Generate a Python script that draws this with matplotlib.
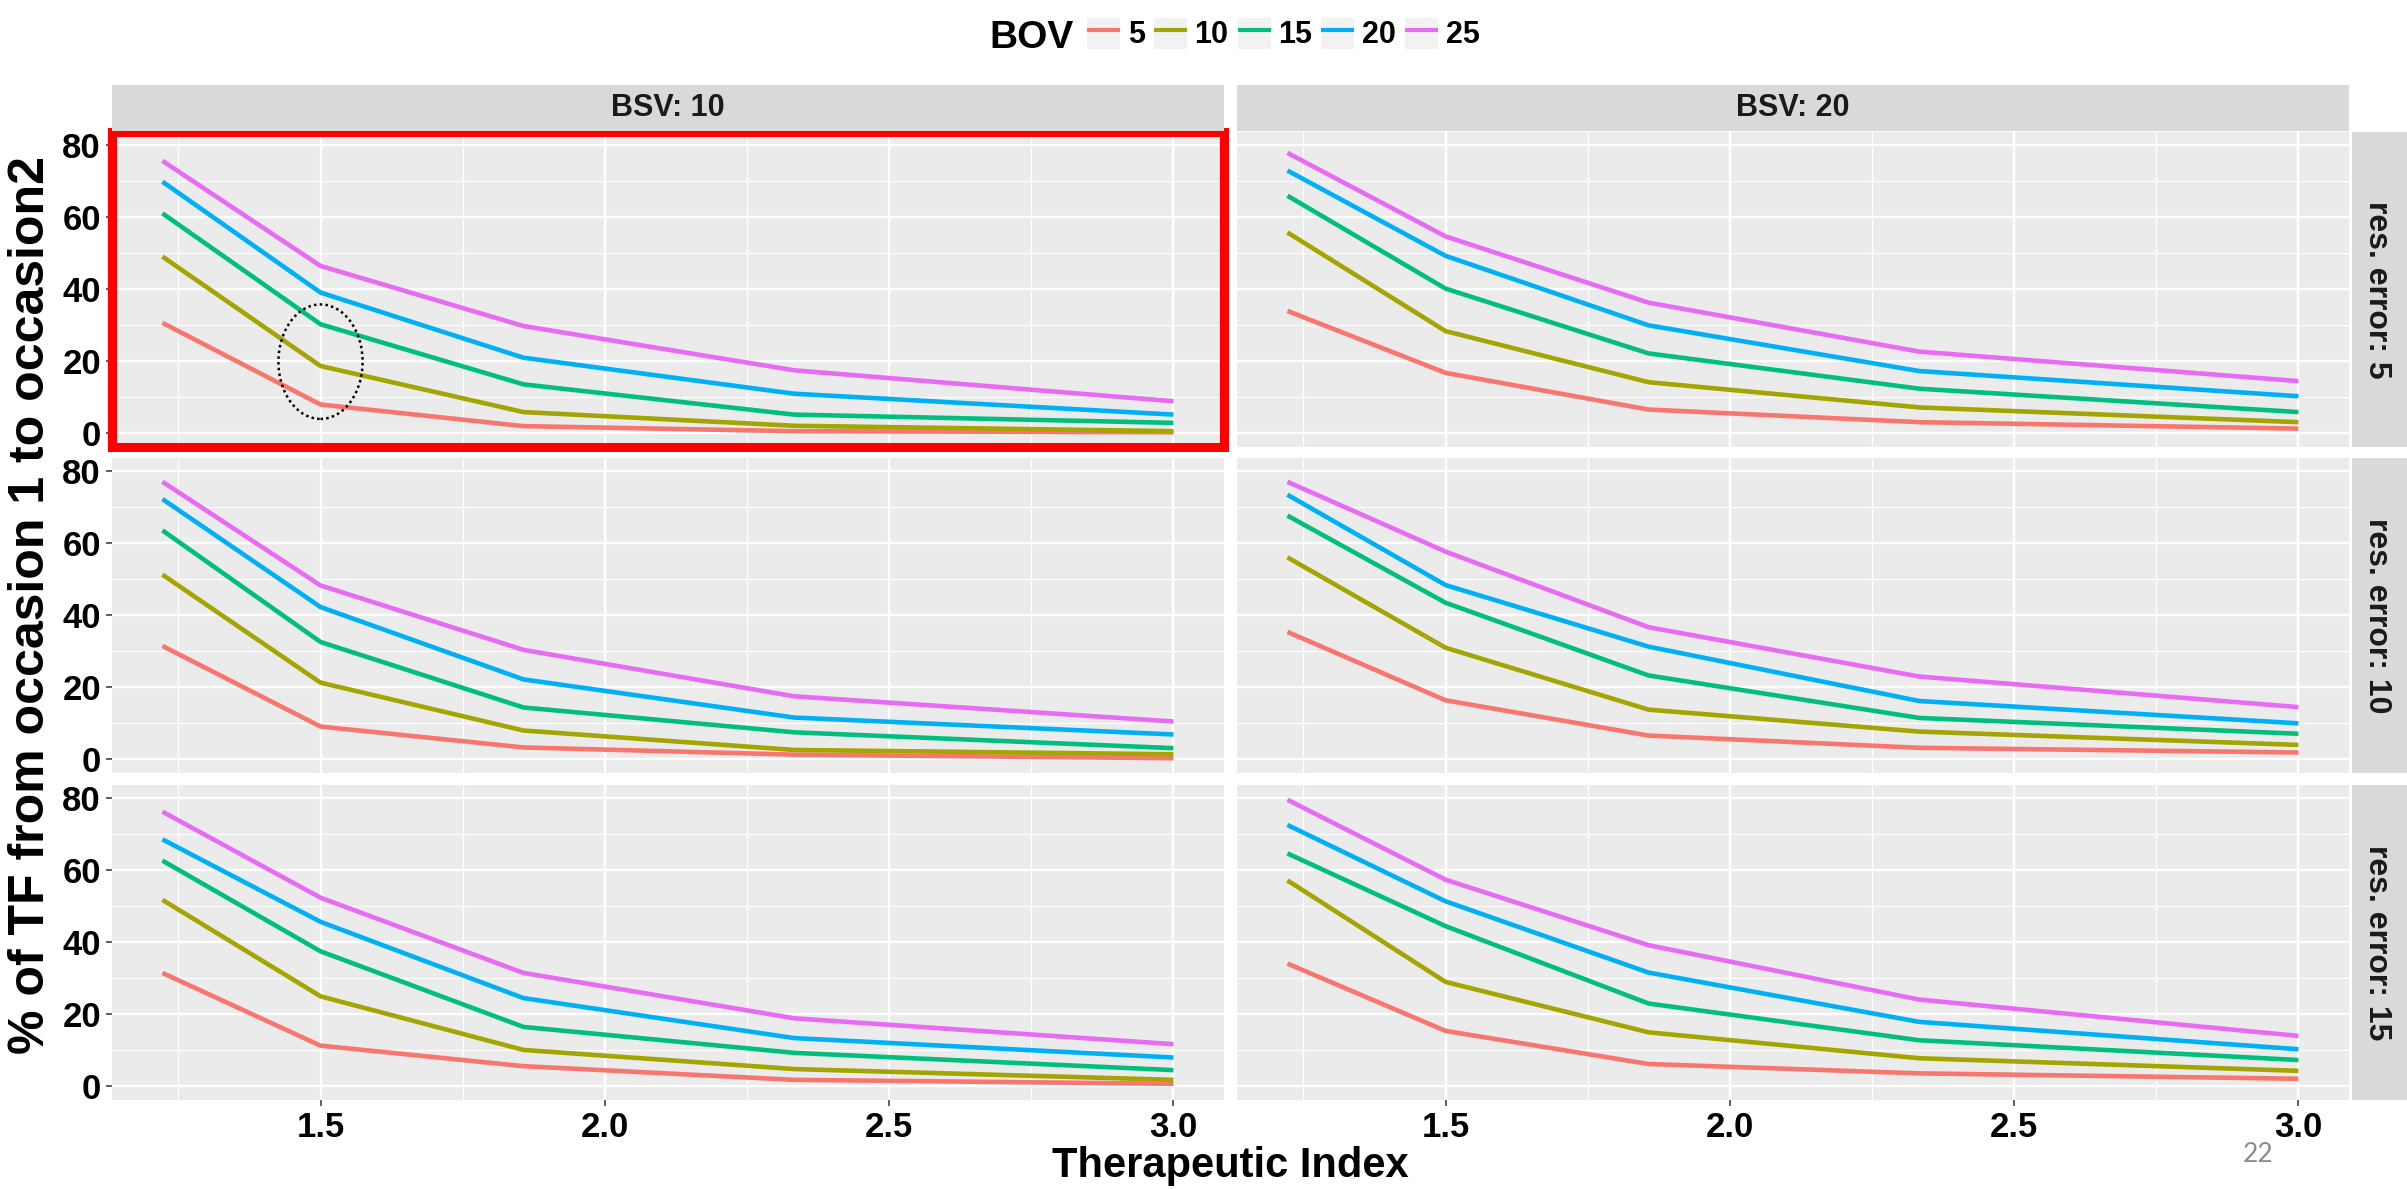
import matplotlib
matplotlib.use("Agg")
import matplotlib.pyplot as plt
from matplotlib.patches import Rectangle, Ellipse, Patch
from matplotlib.lines import Line2D
from matplotlib.legend_handler import HandlerTuple
from matplotlib.ticker import MultipleLocator

plt.rcParams['font.family'] = ['Liberation Sans', 'DejaVu Sans']

# ---------------- data ----------------
therapeutic_index = [1.222, 1.5, 1.857, 2.333, 3.0]
bov_levels = [5, 10, 15, 20, 25]
bsv_levels = [10, 20]
res_levels = [5, 10, 15]
bov_colors = ['#F8766D', '#A3A500', '#00BF7D', '#00B0F6', '#E76BF3']

# each panel: one row per BOV level (5, 10, 15, 20, 25)
bsv10_res5 = [[30.6, 7.9, 1.9, 0.5, 0.2],
              [49.0, 18.6, 5.8, 2.0, 0.5],
              [61.0, 30.2, 13.5, 5.1, 2.8],
              [69.8, 39.0, 20.9, 10.9, 5.1],
              [75.6, 46.4, 29.7, 17.4, 8.8]]
bsv20_res5 = [[33.9, 16.7, 6.5, 3.0, 1.2],
              [55.7, 28.3, 14.1, 7.1, 3.0],
              [65.9, 40.1, 22.1, 12.3, 5.8],
              [72.9, 49.2, 29.9, 17.2, 10.2],
              [77.8, 54.6, 36.2, 22.6, 14.4]]
bsv10_res10 = [[31.4, 9.0, 3.2, 1.2, 0.2],
               [51.2, 21.2, 7.9, 2.5, 1.3],
               [63.5, 32.5, 14.3, 7.4, 3.0],
               [72.2, 42.2, 22.1, 11.5, 6.8],
               [77.0, 48.2, 30.3, 17.4, 10.4]]
bsv20_res10 = [[35.3, 16.3, 6.5, 3.1, 1.8],
               [56.0, 30.9, 13.7, 7.6, 3.9],
               [67.6, 43.4, 23.2, 11.4, 7.0],
               [73.4, 48.3, 31.2, 16.1, 9.9],
               [77.0, 57.6, 36.6, 22.9, 14.4]]
bsv10_res15 = [[31.4, 11.2, 5.5, 1.7, 0.6],
               [51.7, 24.9, 10.0, 4.7, 1.7],
               [62.6, 37.4, 16.4, 9.2, 4.4],
               [68.5, 45.6, 24.4, 13.3, 7.9],
               [76.2, 52.3, 31.4, 18.8, 11.6]]
bsv20_res15 = [[34.0, 15.3, 6.1, 3.5, 2.0],
               [57.1, 28.9, 14.9, 7.7, 4.2],
               [64.6, 44.4, 22.9, 12.7, 7.2],
               [72.5, 51.3, 31.5, 17.8, 10.2],
               [79.5, 57.3, 39.1, 24.0, 13.9]]

panels = [[bsv10_res5, bsv20_res5],
          [bsv10_res10, bsv20_res10],
          [bsv10_res15, bsv20_res15]]

x_ticks = [1.5, 2.0, 2.5, 3.0]
x_tick_labels = ['1.5', '2.0', '2.5', '3.0']
y_ticks = [0, 20, 40, 60, 80]
y_tick_labels = ['0', '20', '40', '60', '80']

# ---------------- layout ----------------
W, H = 2407, 1189
fig = plt.figure(figsize=(W / 100, H / 100), dpi=100)
fig.patch.set_facecolor('white')


def rect(x0, y0, x1, y1):
    return [x0 / W, 1 - y1 / H, (x1 - x0) / W, (y1 - y0) / H]


col_x = [(112, 1224), (1237, 2349)]
row_y = [(132, 447), (458, 773), (785, 1100)]
strip_top = (85, 131)
strip_right = (2352, 2407)

panel_bg = '#EBEBEB'
strip_bg = '#D9D9D9'
xlim = (1.1333, 3.0889)
ylim = (-3.9, 83.6)

axes = {}
for r, (y0, y1) in enumerate(row_y):
    for c, (x0, x1) in enumerate(col_x):
        ax = fig.add_axes(rect(x0, y0, x1, y1))
        ax.set_facecolor(panel_bg)
        for s in ax.spines.values():
            s.set_visible(False)
        ax.set_xlim(*xlim)
        ax.set_ylim(*ylim)
        ax.set_xticks(x_ticks)
        ax.set_yticks(y_ticks)
        ax.xaxis.set_minor_locator(MultipleLocator(0.5))
        ax.xaxis.set_minor_locator(matplotlib.ticker.FixedLocator([1.25, 1.75, 2.25, 2.75]))
        ax.yaxis.set_minor_locator(matplotlib.ticker.FixedLocator([10, 30, 50, 70]))
        ax.grid(which='major', color='white', linewidth=1.7)
        ax.grid(which='minor', color='white', linewidth=0.8)
        ax.set_axisbelow(True)
        ax.tick_params(which='minor', length=0)
        ax.tick_params(which='major', length=4, width=1.1, color='#333333',
                       labelsize=25, pad=4, labelcolor='black')
        if c == 0:
            ax.set_yticklabels(y_tick_labels, fontweight='bold')
        else:
            ax.tick_params(axis='y', length=0, labelleft=False)
        if r == 2:
            ax.set_xticklabels(x_tick_labels, fontweight='bold')
        else:
            ax.tick_params(axis='x', length=0, labelbottom=False)

        data = panels[r][c]
        for k, lev in enumerate(bov_levels):
            ax.plot(therapeutic_index, data[k], color=bov_colors[k], lw=3.3,
                    solid_capstyle='butt', solid_joinstyle='round', zorder=3)
        axes[(r, c)] = ax

# top strips
for c, (x0, x1) in enumerate(col_x):
    sax = fig.add_axes(rect(x0, strip_top[0], x1, strip_top[1]))
    sax.set_facecolor(strip_bg)
    sax.set_xticks([]); sax.set_yticks([])
    for s in sax.spines.values():
        s.set_visible(False)
    sax.text(0.5, 0.5, f'BSV: {bsv_levels[c]}', transform=sax.transAxes,
             ha='center', va='center', fontsize=22, fontweight='bold', color='#1a1a1a')

# right strips
for r, (y0, y1) in enumerate(row_y):
    sax = fig.add_axes(rect(strip_right[0], y0, strip_right[1], y1))
    sax.set_facecolor(strip_bg)
    sax.set_xticks([]); sax.set_yticks([])
    for s in sax.spines.values():
        s.set_visible(False)
    sax.text(0.45, 0.5, f'res. error: {res_levels[r]}', transform=sax.transAxes,
             ha='center', va='center', rotation=-90, fontsize=23,
             fontweight='bold', color='#1a1a1a')

# axis titles
fig.text(31 / W, 1 - 605 / H, '% of TF from occasion 1 to occasion2', rotation=90,
         ha='center', va='center', fontsize=36, fontweight='bold')
fig.text(1230 / W, 1 - 1177 / H, 'Therapeutic Index', ha='center', va='baseline',
         fontsize=30, fontweight='bold')

# legend
fig.text(989 / W, 1 - 48 / H, 'BOV', ha='left', va='baseline', fontsize=28, fontweight='bold')
handles = [(Patch(facecolor='#F2F2F2', edgecolor='none'),
            Line2D([], [], color=col, lw=3.0, solid_capstyle='butt'))
           for col in bov_colors]
fig.legend(handles, [str(b) for b in bov_levels], handler_map={tuple: HandlerTuple(ndivide=1, pad=0)},
           loc='center left', bbox_to_anchor=(1087 / W, 1 - 34 / H), ncol=5, frameon=False,
           borderpad=0, borderaxespad=0, handlelength=1.08, handleheight=1.18,
           handletextpad=0.25, columnspacing=0.3, prop={'size': 22, 'weight': 'bold'})

# annotation: red frame and dotted ellipse on first panel
ax0 = axes[(0, 0)]
ax0.add_patch(Rectangle((0, 0), 1, 1, transform=ax0.transAxes, fill=False,
                        edgecolor='#FF0000', lw=6.5, clip_on=False, zorder=10))
ax0.add_patch(Ellipse((1.5, 19.8), 0.148, 31.8, fill=False, edgecolor='black',
                      lw=1.8, linestyle=(0, (1, 1.3)), zorder=11))

# slide number
fig.text(2258 / W, 1 - 1162 / H, '22', ha='center', va='baseline', fontsize=19,
         color='#8c8c8c', family=['Lato', 'DejaVu Sans'])

fig.savefig('out.png', dpi=100, facecolor='white')
